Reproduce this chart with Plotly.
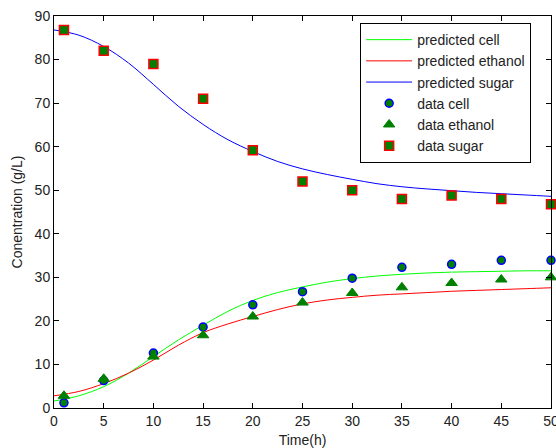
import plotly.graph_objects as go

# Model (predicted) curves
t_pred = [0, 2.5, 5, 7.5, 10, 12.5, 15, 17.5, 20, 22.5, 25, 27.5, 30, 32.5, 35, 37.5, 40, 42.5, 45, 47.5, 50]
pred_cell = [1.6, 2.8, 4.9, 8.0, 11.8, 15.6, 19.0, 22.2, 24.7, 26.5, 27.8, 28.9, 29.7, 30.3, 30.7, 31.0, 31.2, 31.3, 31.4, 31.5, 31.5]
pred_ethanol = [2.8, 3.8, 5.6, 8.0, 11.0, 14.4, 17.3, 19.3, 21.0, 22.6, 23.9, 24.8, 25.4, 25.9, 26.2, 26.5, 26.8, 27.0, 27.2, 27.4, 27.6]
pred_sugar = [86.8, 85.6, 83.0, 79.2, 74.3, 69.3, 65.1, 61.6, 58.9, 56.6, 54.9, 53.6, 52.5, 51.5, 50.8, 50.3, 49.9, 49.5, 49.2, 48.9, 48.6]

# Measured data
t_data = [1, 5, 10, 15, 20, 25, 30, 35, 40, 45, 50]
data_cell = [1.2, 6.3, 12.6, 18.6, 23.7, 26.7, 29.8, 32.3, 33.0, 33.9, 33.9]
data_ethanol = [2.8, 6.7, 11.8, 16.7, 21.0, 24.2, 26.4, 27.7, 28.7, 29.5, 30.0]
data_sugar = [86.8, 82.0, 79.0, 71.0, 59.2, 52.0, 50.0, 48.0, 48.8, 48.0, 46.8]

x_ticks = [0, 5, 10, 15, 20, 25, 30, 35, 40, 45, 50]
y_ticks = [0, 10, 20, 30, 40, 50, 60, 70, 80, 90]

FONT = "Liberation Sans, Arial, sans-serif"
FS = 14
DARKGREEN = "rgb(0,128,0)"

fig = go.Figure()
fig.add_trace(go.Scatter(x=t_pred, y=pred_cell, mode="lines", name="predicted cell",
                         line=dict(color="#00ff00", width=1, shape="spline")))
fig.add_trace(go.Scatter(x=t_pred, y=pred_ethanol, mode="lines", name="predicted ethanol",
                         line=dict(color="#ff0000", width=1, shape="spline")))
fig.add_trace(go.Scatter(x=t_pred, y=pred_sugar, mode="lines", name="predicted sugar",
                         line=dict(color="#0000ff", width=1, shape="spline")))
fig.add_trace(go.Scatter(x=t_data, y=data_cell, mode="markers", name="data cell", cliponaxis=False,
                         marker=dict(symbol="circle", size=8, color=DARKGREEN,
                                     line=dict(color="#0000ff", width=1.5))))
fig.add_trace(go.Scatter(x=t_data, y=data_ethanol, mode="markers", name="data ethanol", cliponaxis=False,
                         marker=dict(symbol="triangle-up", size=10, color=DARKGREEN,
                                     line=dict(color=DARKGREEN, width=1))))
fig.add_trace(go.Scatter(x=t_data, y=data_sugar, mode="markers", name="data sugar", cliponaxis=False,
                         marker=dict(symbol="square", size=9, color=DARKGREEN,
                                     line=dict(color="#ff0000", width=1.5))))

axis_common = dict(showgrid=False, zeroline=False, showline=True, linecolor="black",
                   linewidth=1, mirror="ticks", ticks="inside", ticklen=5, automargin=False,
                   ticklabeloverflow="allow",
                   tickcolor="black", tickfont=dict(family=FONT, size=FS, color="#222"))

fig.update_layout(
    width=556, height=448,
    margin=dict(l=54, r=5, t=16, b=40),
    paper_bgcolor="white", plot_bgcolor="white",
    font=dict(family=FONT, size=FS, color="black"),
    showlegend=True,
    legend=dict(x=0.616, y=0.982, xanchor="left", yanchor="top",
                bordercolor="black", borderwidth=1, bgcolor="white",
                font=dict(family=FONT, size=FS, color="#222"),
                tracegroupgap=0, itemwidth=46),
    xaxis=dict(range=[0, 50], tickvals=x_ticks,
               title=dict(text="Time(h)", standoff=8, font=dict(family=FONT, size=FS, color="#222")),
               **axis_common),
    yaxis=dict(range=[0, 90], tickvals=y_ticks,
               title=dict(text="Conentration (g/L)", standoff=8, font=dict(family=FONT, size=FS, color="#222")),
               **axis_common),
)

fig.write_html("out.html", config={"displayModeBar": False},
               post_script="document.body.style.margin='0';document.body.style.padding='0';")
